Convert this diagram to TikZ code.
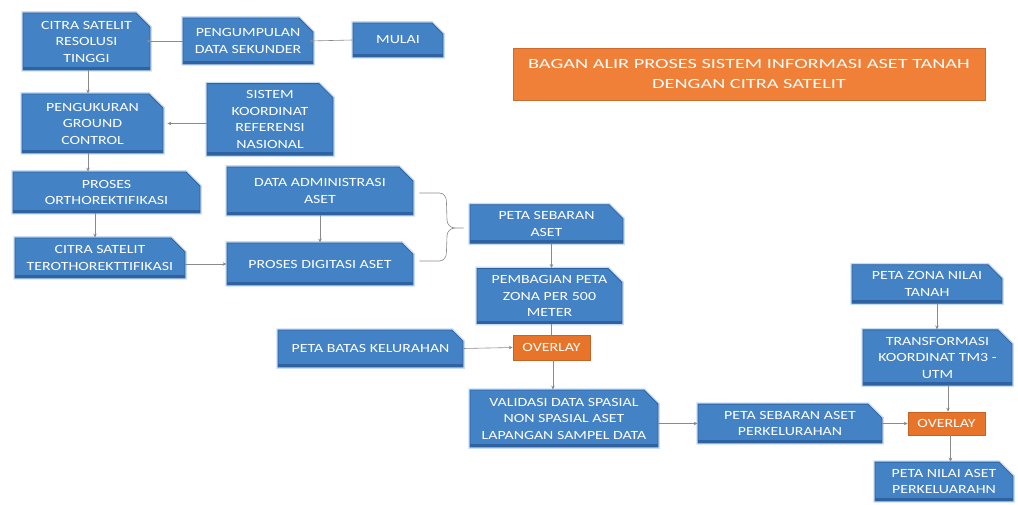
\documentclass[tikz,border=0pt]{standalone}
\usepackage{fontspec}
\setmainfont{Carlito}
\newfontfamily\boxfont[FakeStretch=1.27]{Carlito}
\newfontfamily\titlefont[FakeStretch=1.45]{Carlito}
\usetikzlibrary{shapes.misc,arrows.meta,calc}
\definecolor{boxblue}{HTML}{4482C6}
\definecolor{boxedge}{HTML}{2F62A0}
\definecolor{boxglow}{HTML}{C9DDF2}
\definecolor{ovorange}{HTML}{E8742A}
\definecolor{titleorange}{HTML}{F07F38}
\definecolor{linegray}{HTML}{8A8A8A}
\tikzset{
  box/.style={chamfered rectangle, chamfered rectangle corners=north east,
    chamfered rectangle xsep=7pt, chamfered rectangle ysep=7pt,
    fill=boxblue, draw=boxedge, line width=0.8pt,
    preaction={draw=boxglow, line width=3.5pt},
    path picture={\fill[boxedge] ([yshift=3pt]path picture bounding box.south west) rectangle (path picture bounding box.south east);},
    text=white, font=\boxfont\fontsize{12.5}{16.5}\selectfont,
    align=center, inner sep=0pt},
  ovbox/.style={rectangle, fill=ovorange, draw=ovorange!85!black, line width=0.6pt,
    text=white, font=\boxfont\fontsize{12.5}{15}\selectfont, inner sep=0pt},
  titlebox/.style={rectangle, fill=titleorange, draw=titleorange!85!black, line width=0.5pt,
    text=white, font=\titlefont\fontsize{14}{20}\selectfont, align=center, inner sep=0pt},
  arr/.style={draw=linegray, line width=0.6pt, -{Stealth[length=4pt,width=3.5pt]}},
  ln/.style={draw=linegray, line width=0.6pt},
}
\begin{document}
\begin{tikzpicture}[x=1pt,y=-1pt]
\useasboundingbox (0,0) rectangle (1018,505);
% boxes
\node[box, minimum width=127pt, minimum height=57pt] (cit) at (86.5,41.5) {CITRA SATELIT\\RESOLUSI\\TINGGI};
\node[box, minimum width=130pt, minimum height=46pt] (pdk) at (248,41) {PENGUMPULAN\\DATA SEKUNDER};
\node[box, minimum width=90pt, minimum height=34pt] (mul) at (398,40) {MULAI};
\node[box, minimum width=141pt, minimum height=59pt] (pgc) at (92.5,123.5) {PENGUKURAN\\GROUND\\CONTROL};
\node[box, minimum width=126pt, minimum height=71pt] (skr) at (270,119.5) {SISTEM\\KOORDINAT\\REFERENSI\\NASIONAL};
\node[box, minimum width=187pt, minimum height=41pt] (por) at (106.5,192.5) {PROSES\\ORTHOREKTIFIKASI};
\node[box, minimum width=186pt, minimum height=48pt] (dad) at (320,191) {DATA ADMINISTRASI\\ASET};
\node[box, minimum width=170pt, minimum height=40pt] (cst) at (100,258) {CITRA SATELIT\\TEROTHOREKTTIFIKASI};
\node[box, minimum width=186pt, minimum height=42pt] (pda) at (320,264) {PROSES DIGITASI ASET};
\node[box, minimum width=153pt, minimum height=38pt] (psa) at (546.5,224) {PETA SEBARAN\\ASET};
\node[box, minimum width=145pt, minimum height=48pt] (pbp) at (549.5,296) {PEMBAGIAN PETA\\ZONA PER 500\\METER};
\node[box, minimum width=185pt, minimum height=37pt] (pbk) at (370.5,348.5) {PETA BATAS KELURAHAN};
\node[ovbox, minimum width=77pt, minimum height=25pt] (ov1) at (551.5,347.5) {OVERLAY};
\node[box, minimum width=188pt, minimum height=57pt] (val) at (564,418.5) {VALIDASI DATA SPASIAL\\NON SPASIAL ASET\\LAPANGAN SAMPEL DATA};
\node[box, minimum width=150pt, minimum height=38pt] (pzn) at (927,284) {PETA ZONA NILAI\\TANAH};
\node[box, minimum width=149pt, minimum height=55pt] (tkt) at (937.5,357.5) {TRANSFORMASI\\KOORDINAT TM3 -\\UTM};
\node[box, minimum width=184pt, minimum height=37pt] (psp) at (790,423.5) {PETA SEBARAN ASET\\PERKELURAHAN};
\node[ovbox, minimum width=77pt, minimum height=23pt] (ov2) at (946.5,423.5) {OVERLAY};
\node[box, minimum width=138pt, minimum height=37pt] (pna) at (944,481.5) {PETA NILAI ASET\\PERKELUARAHN};
\node[titlebox, minimum width=472pt, minimum height=52pt] (ttl) at (749,74) {BAGAN ALIR PROSES SISTEM INFORMASI ASET TANAH\\DENGAN CITRA SATELIT};
% connectors
\draw[arr] (mul.west) -- ([xshift=-4pt]pdk.east);
\draw[arr] (pdk.west) -- ([xshift=-4pt]cit.east |- pdk.west);
\draw[arr] ([xshift=1.5pt]cit.south) -- ([xshift=1.5pt]cit.south |- pgc.north);
\draw[arr] (skr.west |- pgc.east) -- ([xshift=4pt]pgc.east);
\draw[arr] ([xshift=1.5pt]cit.south |- pgc.south) -- ([xshift=1.5pt]cit.south |- por.north);
\draw[arr] ([xshift=-5pt]cst.north |- por.south) -- ([xshift=-5pt]cst.north);
\draw[arr] (cst.east |- pda.west) -- (pda.west);
\draw[arr] (dad.south) -- (pda.north);
\draw[ln] ([xshift=6pt,yshift=-2pt]dad.east) -- ++(20,0) to[out=0,in=90] ++(7,8) -- (447,220) to[out=-90,in=180] (455,228) -- ([xshift=-6pt]psa.west |- 0,228);
\draw[ln] ([xshift=6pt,yshift=3pt]pda.east) -- ++(20,0) to[out=0,in=-90] ++(7,-8) -- (447,236) to[out=90,in=180] (455,228);
\draw[arr] ([xshift=5pt]psa.south) -- ([xshift=5pt]psa.south |- pbp.north);
\draw[ln] ([xshift=2pt]pbp.south) -- ([xshift=2pt]pbp.south |- ov1.north);
\draw[arr] (pbk.east) -- (ov1.west);
\draw[arr] ([xshift=1.5pt]ov1.south) -- ([xshift=1.5pt]ov1.south |- val.north);
\draw[arr] (val.east |- psp.west) -- (psp.west);
\draw[arr] (psp.east) -- (ov2.west);
\draw[arr] ([xshift=10pt]pzn.south) -- ([xshift=10pt]pzn.south |- tkt.north);
\draw[arr] ([xshift=10.5pt]tkt.south) -- ([xshift=1.5pt]ov2.north);
\draw[arr] ([xshift=4pt]ov2.south) -- ([xshift=4pt]ov2.south |- pna.north);
\end{tikzpicture}
\end{document}
